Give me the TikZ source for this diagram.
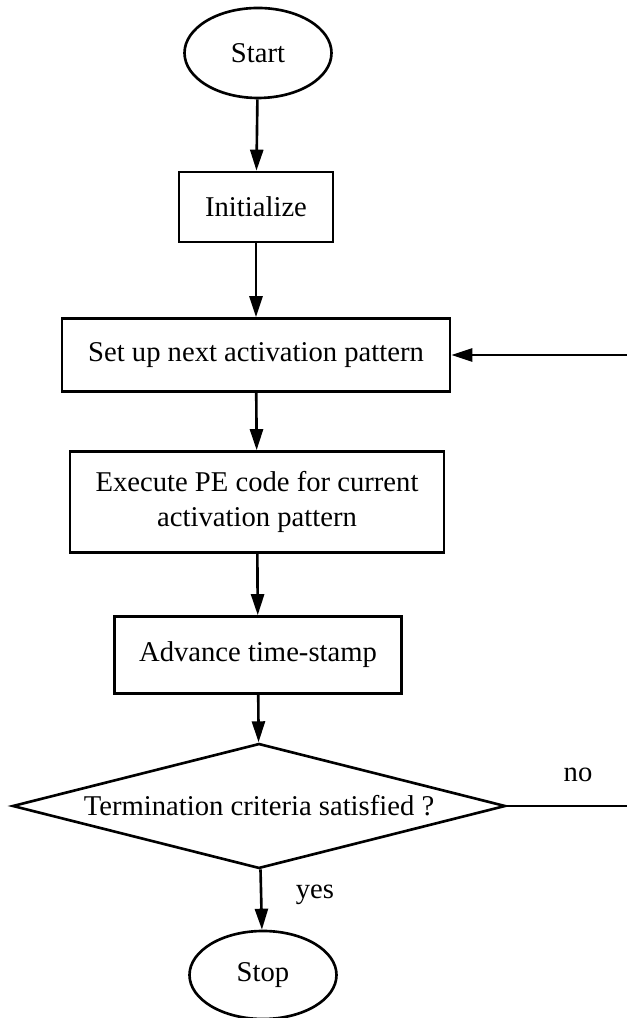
\documentclass[tikz,border=0pt]{standalone}
\usepackage{fontspec}
\setmainfont{Liberation Serif}
\usetikzlibrary{arrows.meta, positioning, shapes.geometric}

\begin{document}
\begin{tikzpicture}[
  box/.style={draw,line width=1.5pt,align=center,inner sep=0pt,
  font=\fontsize{16.3}{20}\selectfont},
  term/.style={draw,ellipse,line width=1.5pt,inner sep=0pt,
  minimum width=2.94cm,minimum height=1.8cm,font=\fontsize{16.3}{20}\selectfont},
  decision/.style={draw,diamond,aspect=3.9,line width=1.5pt,inner sep=0pt,
  font=\fontsize{16.3}{20}\selectfont},
  lbl/.style={font=\fontsize{16.3}{20}\selectfont},
  arr/.style={-{Triangle[length=4.2mm,width=2.6mm]},line width=1.5pt},
]
\useasboundingbox (0,0) rectangle (12.54,20.36);
\coordinate (redge) at (12.54,0);

\node[term] (start) at (5.16,19.30) {Start};
\node[box,minimum width=3.08cm,minimum height=1.40cm] (init) at (5.12,16.22) {Initialize};
\node[box,minimum width=7.76cm,minimum height=1.46cm] (setup) at (5.12,13.26) {Set up next activation pattern};
\node[box,minimum width=7.48cm,minimum height=2.02cm] (exec) at (5.14,10.32) {Execute PE code for current\\activation pattern};
\node[box,minimum width=5.74cm,minimum height=1.54cm] (adv) at (5.16,7.26) {Advance time-stamp};
\node[decision,minimum width=9.86cm,minimum height=2.50cm] (test) at (5.18,4.24) {Termination criteria satisfied ?};
\node[term,minimum height=1.76cm] (stop) at (5.26,0.86) {Stop};

\node[lbl] (no) at (11.56,4.86) {no};
\node[lbl] (yes) at (6.30,2.46) {yes};

% main flow
\draw[arr] (start) -- (init);
\draw[arr] (init) -- (setup);
\draw[arr] (setup) -- (exec);
\draw[arr] (exec) -- (adv);
\draw[arr] (adv) -- (test);
\draw[arr] (test) -- (stop);

% loop back
\draw[line width=1.5pt] (test.east) -- (test.east -| redge);
\draw[arr] (setup.east -| redge) -- (setup.east);
\end{tikzpicture}
\end{document}
